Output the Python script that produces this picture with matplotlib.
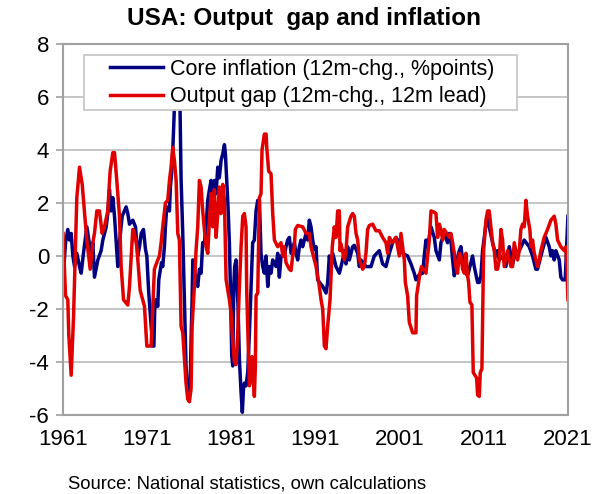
import matplotlib
matplotlib.use("Agg")
import matplotlib.pyplot as plt
from matplotlib.patches import Rectangle

plt.rcParams['font.family'] = ['Liberation Sans', 'DejaVu Sans']
plt.rcParams['axes.unicode_minus'] = False

# Core inflation (12m-chg., %points)
infl_years = [1961.0, 1961.30, 1961.57, 1961.77, 1961.97, 1962.17, 1962.37, 1962.64, 1962.96, 1963.16,
              1963.43, 1963.83, 1964.07, 1964.35, 1964.54, 1964.74, 1965.14, 1965.53, 1965.73, 1966.13,
              1966.32, 1966.52, 1966.72, 1966.92, 1967.12, 1967.31, 1967.51, 1967.71, 1968.03, 1968.30,
              1968.50, 1968.70, 1968.90, 1969.29, 1969.61, 1969.89, 1970.09, 1970.29, 1970.56, 1970.80,
              1970.96, 1971.19, 1971.47, 1971.67, 1971.80, 1971.90, 1972.06, 1972.26, 1972.38, 1972.70,
              1972.85, 1973.05, 1973.17, 1973.33, 1973.65, 1973.76, 1973.96, 1974.12, 1974.28, 1974.44,
              1974.67, 1974.91, 1975.03, 1975.23, 1975.43, 1975.62, 1975.82, 1975.94, 1976.10, 1976.22,
              1976.34, 1976.42, 1976.81, 1977.01, 1977.21, 1977.41, 1977.60, 1977.80, 1978.00, 1978.20,
              1978.40, 1978.59, 1978.79, 1978.99, 1979.19, 1979.39, 1979.58, 1979.78, 1979.98, 1980.18,
              1980.30, 1980.45, 1980.61, 1980.77, 1980.89, 1981.05, 1981.17, 1981.29, 1981.40, 1981.56,
              1981.68, 1981.80, 1981.96, 1982.16, 1982.31, 1982.45, 1982.55, 1982.75, 1982.95, 1983.15,
              1983.35, 1983.54, 1983.74, 1983.94, 1984.14, 1984.34, 1984.53, 1984.73, 1984.93, 1985.13,
              1985.33, 1985.52, 1985.72, 1985.92, 1986.32, 1986.51, 1986.71, 1986.91, 1987.30, 1987.50,
              1987.70, 1987.90, 1988.10, 1988.49, 1988.69, 1988.89, 1989.09, 1989.28, 1989.48, 1989.68,
              1989.88, 1990.08, 1990.27, 1990.47, 1990.67, 1990.87, 1991.07, 1991.26, 1991.86, 1992.25,
              1992.45, 1992.65, 1992.85, 1993.05, 1993.44, 1993.84, 1994.23, 1994.43, 1994.63, 1994.83,
              1995.03, 1995.42, 1995.62, 1996.02, 1996.21, 1996.41, 1997.00, 1997.60, 1997.99, 1998.59,
              1998.98, 1999.38, 1999.78, 2000.17, 2000.57, 2000.96, 2001.36, 2001.95, 2002.35, 2002.74,
              2002.94, 2003.34, 2003.74, 2003.93, 2004.13, 2004.33, 2004.73, 2005.12, 2005.32, 2005.72,
              2005.91, 2006.31, 2006.70, 2006.90, 2007.10, 2007.30, 2007.50, 2007.69, 2008.09, 2008.29,
              2008.49, 2008.88, 2009.08, 2009.28, 2009.67, 2009.87, 2010.27, 2010.47, 2010.66, 2010.86,
              2011.06, 2011.26, 2011.46, 2011.65, 2012.05, 2012.45, 2012.64, 2012.84, 2013.24, 2013.63,
              2014.03, 2014.42, 2014.62, 2015.22, 2015.81, 2016.40, 2016.80, 2017.19, 2017.39, 2017.79,
              2018.38, 2018.78, 2018.98, 2019.17, 2019.37, 2019.57, 2019.97, 2020.16, 2020.36, 2020.68,
              2020.84, 2021.0]
infl_vals = [-0.9, 0.5, 1.0, 0.6, 0.85, 0.0, -0.4, 0.1, -0.4, -0.65,
             0.1, 1.1, 0.6, 0.0, 0.5, -0.8, -0.15, 0.2, 0.6, 1.1,
             1.6, 2.5, 1.7, 2.2, 1.5, 0.6, -0.4, 0.5, 1.5, 1.7,
             1.85, 1.6, 1.2, 1.35, 1.1, 0.0, 0.35, 0.85, 1.0, 0.25,
             0.0, -1.4, -2.65, -3.4, -3.4, -2.0, -1.65, -1.9, -0.9, -0.25,
             -0.4, 0.35, 1.1, 1.85, 1.7, 2.6, 3.35, 4.6, 6.0, 6.9,
             7.0, 5.5, 2.9, 0.85, -1.65, -4.15, -5.15, -5.4, -5.15, -3.15,
             -1.65, -0.15, -0.9, -1.15, -0.5, -0.65, 0.5, 0.5, 1.1, 2.1,
             2.5, 2.85, 2.1, 2.85, 2.35, 3.35, 2.95, 3.6, 3.85, 4.2,
             3.85, 2.85, 1.85, 0.5, -1.15, -3.75, -4.15, -1.15, -0.4, -0.15,
             -1.15, -1.9, -3.9, -5.15, -5.9, -5.0, -4.8, -4.9, -4.4, -2.9,
             -1.15, 0.5, 0.6, 1.7, 2.1, 2.1, 0.1, -0.4, -0.65, 0.0,
             -1.15, -0.4, -0.65, -0.15, -0.4, 0.1, -0.8, 0.0, 0.0, 0.35,
             0.6, 0.7, 0.1, 0.5, 0.1, -0.15, 0.35, 0.6, 0.35, 0.6,
             0.85, 0.6, 1.35, 1.1, 0.6, 0.25, 0.35, -0.9, -1.15, -1.4,
             -1.0, 0.0, -0.5, 0.1, -0.4, -0.65, -0.15, 0.2, -0.3, 0.35,
             -0.15, 0.35, 0.4, 0.1, -0.4, -0.15, -0.4, -0.4, 0.0, 0.2,
             -0.3, -0.4, 0.1, 0.5, 0.7, 0.5, 0.1, 0.0, -0.3, -0.65,
             -0.9, -0.7, -0.65, 0.0, 0.6, 0.35, 1.1, 0.7, 0.2, -0.15,
             0.5, 0.85, 0.5, 0.85, 0.6, -0.15, -0.75, -0.3, 0.2, 0.35,
             -0.15, -0.65, -0.75, -0.5, 0.0, -0.4, -1.0, -1.0, -0.75, 0.2,
             0.7, 1.2, 1.45, 1.1, 0.5, 0.0, 0.2, -0.15, 0.0, -0.4,
             0.35, -0.3, -0.05, 0.2, 0.6, 0.35, 0.0, -0.5, -0.5, 0.0,
             0.7, 0.35, 0.0, 0.2, -0.15, 0.2, -0.15, -0.8, -0.9, -0.9,
             0.35, 1.5]

# Output gap (12m-chg., 12m lead)
gap_years = [1961.0, 1961.30, 1961.57, 1961.69, 1961.97, 1962.25, 1962.37, 1962.64, 1962.96, 1963.28,
             1963.83, 1964.23, 1964.54, 1964.74, 1965.02, 1965.33, 1965.65, 1965.93, 1966.32, 1966.60,
             1966.92, 1967.12, 1967.39, 1967.71, 1967.91, 1968.19, 1968.70, 1968.90, 1969.29, 1969.49,
             1969.77, 1970.17, 1970.68, 1970.96, 1971.47, 1971.86, 1972.26, 1972.46, 1972.66, 1972.85,
             1973.17, 1973.45, 1973.65, 1973.84, 1974.04, 1974.24, 1974.44, 1974.64, 1974.83, 1975.03,
             1975.23, 1975.43, 1975.62, 1975.82, 1976.02, 1976.22, 1976.34, 1976.61, 1976.81, 1977.01,
             1977.21, 1977.41, 1977.60, 1977.80, 1978.00, 1978.20, 1978.40, 1978.59, 1978.79, 1978.99,
             1979.19, 1979.39, 1979.58, 1979.78, 1979.98, 1980.18, 1980.38, 1980.77, 1980.97, 1981.17,
             1981.37, 1981.56, 1981.76, 1981.96, 1982.16, 1982.36, 1982.55, 1982.75, 1982.83, 1983.07,
             1983.15, 1983.35, 1983.46, 1983.74, 1983.86, 1983.94, 1984.14, 1984.34, 1984.53, 1984.65,
             1984.93, 1985.13, 1985.21, 1985.44, 1985.72, 1985.92, 1986.12, 1986.51, 1986.91, 1987.11,
             1987.30, 1987.50, 1987.90, 1988.10, 1988.29, 1988.49, 1988.61, 1988.89, 1989.48, 1989.88,
             1990.27, 1990.47, 1990.87, 1991.07, 1991.46, 1991.66, 1991.86, 1992.06, 1992.25, 1992.45,
             1992.73, 1992.85, 1993.00, 1993.24, 1993.44, 1993.64, 1993.84, 1993.92, 1994.04, 1994.43,
             1994.63, 1994.83, 1995.22, 1995.42, 1995.62, 1995.82, 1996.02, 1996.21, 1996.61, 1996.81,
             1997.00, 1997.20, 1997.40, 1997.80, 1998.19, 1998.59, 1998.98, 1999.38, 1999.58, 1999.78,
             2000.17, 2000.57, 2000.96, 2001.16, 2001.56, 2001.68, 2001.95, 2002.15, 2002.55, 2002.94,
             2003.02, 2003.42, 2003.60, 2004.13, 2004.33, 2004.53, 2004.73, 2005.12, 2005.32, 2005.52,
             2005.72, 2005.91, 2006.11, 2006.31, 2006.90, 2007.10, 2007.30, 2007.50, 2007.69, 2007.89,
             2008.09, 2008.29, 2008.49, 2008.68, 2008.88, 2009.08, 2009.20, 2009.36, 2009.59, 2009.75,
             2010.15, 2010.27, 2010.47, 2010.58, 2010.78, 2010.86, 2010.98, 2011.26, 2011.46, 2011.65,
             2011.85, 2012.05, 2012.25, 2012.45, 2012.64, 2012.84, 2013.04, 2013.24, 2013.43, 2013.83,
             2014.23, 2014.42, 2014.62, 2015.02, 2015.22, 2015.41, 2015.61, 2015.81, 2016.01, 2016.20,
             2016.48, 2016.60, 2016.80, 2017.00, 2017.39, 2017.59, 2017.79, 2018.18, 2018.58, 2018.98,
             2019.37, 2019.57, 2019.77, 2020.16, 2020.56, 2020.76, 2020.88, 2021.0]
gap_vals = [0.85, -1.5, -1.65, -3.0, -4.5, -2.3, -0.9, 2.2, 3.35, 2.7,
            0.6, -0.5, 0.5, 0.85, 1.7, 1.7, 0.85, 1.1, 1.7, 3.2,
            3.9, 3.9, 2.85, 1.5, -0.4, -1.65, -1.85, -1.15, 1.0, 0.85,
            0.35, -1.3, -1.9, -3.4, -3.4, -0.5, -0.15, 0.0, 0.5, 1.1,
            2.0, 2.1, 2.85, 3.35, 4.1, 3.6, 2.85, 0.85, 0.6, -2.65,
            -2.9, -3.9, -4.8, -5.4, -5.5, -5.0, -2.65, -1.15, 0.2, 1.1,
            2.85, 2.6, 1.7, 1.0, 0.35, 0.1, 1.35, 2.35, 1.1, 2.5,
            0.7, 1.6, 2.6, 1.6, 2.7, 2.1, -0.9, -1.65, -2.15, -3.25,
            -4.0, -4.1, -2.9, -1.15, 0.35, 1.5, 1.6, 1.1, -1.3, -3.9,
            -4.9, -4.6, -3.8, -5.3, -4.15, -1.5, -1.4, 2.2, 2.35, 4.0,
            4.6, 4.6, 4.1, 3.2, 3.1, 1.6, 0.6, 0.35, 0.5, 0.0,
            0.35, -0.25, -0.5, -0.55, 0.0, 0.35, 1.0, 1.15, 1.1, 0.85,
            0.85, 0.35, -0.15, -0.4, -1.15, -1.65, -2.0, -3.4, -3.5, -2.65,
            -1.65, -0.8, 0.35, 1.1, 0.7, 1.7, 1.7, 0.2, 0.45, -0.15,
            0.2, 1.1, 1.5, 1.6, 1.5, 0.85, 0.6, -0.15, -0.5, -0.4,
            0.1, 1.0, 1.15, 1.2, 0.95, 0.95, 0.7, 0.5, 0.1, 0.7,
            0.5, 0.7, 0.0, 0.85, -0.15, -1.0, -1.5, -2.5, -2.9, -2.9,
            -1.5, -0.65, -0.4, -0.65, 0.0, 0.6, 1.7, 1.65, 1.6, 0.7,
            1.2, 1.0, 0.6, 1.0, 0.7, 0.85, 0.5, 0.1, -0.4, -0.65,
            0.1, 0.0, -0.5, -0.65, 0.1, -0.75, -1.0, -1.75, -1.85, -4.4,
            -4.6, -5.25, -5.3, -4.4, -4.25, -2.5, 0.2, 1.35, 1.7, 1.7,
            1.1, 0.5, 0.2, -0.5, -0.5, -0.15, 1.0, 0.6, -0.4, 0.2,
            -0.4, -0.4, 0.5, -0.15, 0.2, 1.0, 1.2, 1.1, 2.1, 1.5,
            1.0, 0.35, 0.6, 0.1, -0.4, -0.15, 0.2, 0.7, 1.0, 1.35,
            1.5, 1.2, 0.6, 0.35, 0.2, 0.35, -0.4, -1.65]

x_ticks = [1961, 1971, 1981, 1991, 2001, 2011, 2021]
y_ticks = [-6, -4, -2, 0, 2, 4, 6, 8]

fig = plt.figure(figsize=(6.10, 4.94), dpi=100)
ax = fig.add_axes([0.1033, 0.160, 0.8277, 0.751])

ax.plot(infl_years, infl_vals, color='#000080', lw=2.5, label='Core inflation (12m-chg., %points)')
ax.plot(gap_years, gap_vals, color='#E00000', lw=2.5, label='Output gap (12m-chg., 12m lead)')

ax.set_xlim(1961, 2021)
ax.set_ylim(-6, 8)
ax.set_xticks(x_ticks)
ax.set_yticks(y_ticks)
ax.tick_params(axis='x', length=0, pad=10, labelsize=16)
ax.tick_params(axis='y', length=5, width=1.2, color='#a0a0a0', pad=5, labelsize=16)

# grey frame and horizontal gridlines, Excel look
ax.grid(axis='y', color='#c0c0c0', lw=1.3)
ax.set_axisbelow(True)
for s in ax.spines.values():
    s.set_color('#a0a0a0')
    s.set_linewidth(1.5)

# legend box drawn by hand so it can be wider than the text, like Excel
box = Rectangle((0.0416, 0.822), 0.8574, 0.148, transform=ax.transAxes,
                facecolor='white', edgecolor='#c8c8c8', lw=1.3, zorder=4)
ax.add_patch(box)
leg = ax.legend(loc='upper left', bbox_to_anchor=(0.093, 0.960), fontsize=15.5,
                frameon=False, handlelength=2.45, handletextpad=0.33, labelspacing=0.3,
                borderpad=0, borderaxespad=0)
leg.set_zorder(5)

fig.text(0.499, 0.962, 'USA: Output  gap and inflation', ha='center', va='center',
         fontsize=17.5, fontweight='bold')
fig.text(0.111, 0.021, 'Source: National statistics, own calculations', ha='left', va='center',
         fontsize=13.3)

fig.savefig('out.png', dpi=100)
